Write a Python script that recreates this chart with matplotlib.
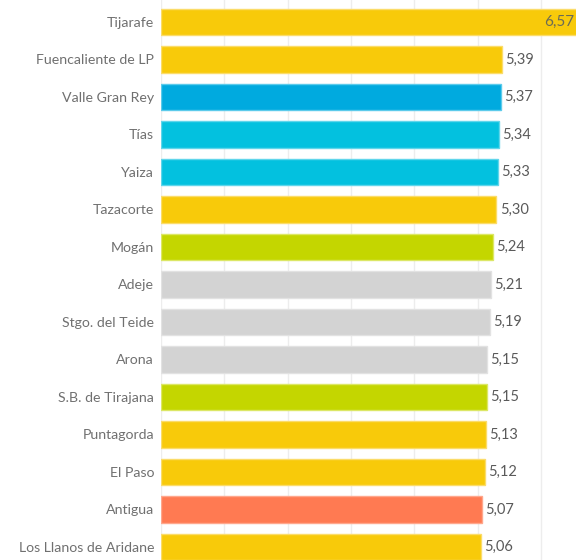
import matplotlib.pyplot as plt
import numpy as np

# Municipios y valores
names = ['Tijarafe', 'Fuencaliente de LP', 'Valle Gran Rey', 'Tías', 'Yaiza',
         'Tazacorte', 'Mogán', 'Adeje', 'Stgo. del Teide', 'Arona',
         'S.B. de Tirajana', 'Puntagorda', 'El Paso', 'Antigua',
         'Los Llanos de Aridane']
values = [6.57, 5.39, 5.37, 5.34, 5.33, 5.30, 5.24, 5.21, 5.19, 5.15,
          5.15, 5.13, 5.12, 5.07, 5.06]
groups = ['LP', 'LP', 'GO', 'LZ', 'LZ', 'LP', 'GC', 'TF', 'TF', 'TF',
          'GC', 'LP', 'LP', 'FV', 'LP']

group_colors = {'LP': '#F8CA0A', 'GO': '#00AADF', 'LZ': '#03C1DF',
                'GC': '#C4D600', 'TF': '#D3D3D3', 'FV': '#FF7A52'}
edge_colors = {'LP': '#FBDC6A', 'GO': '#5CCBEB', 'LZ': '#60D6EB',
               'GC': '#DCE766', 'TF': '#E2E2E2', 'FV': '#FFA78C'}

fig = plt.figure(figsize=(5.76, 5.6), dpi=100)
W, H = 576, 560
x0 = 161
px_per_unit = 63.3
ax = fig.add_axes([x0 / W, 0, (W - x0) / W, 1])

y = np.arange(len(names))
colors = [group_colors[g] for g in groups]
edges = [edge_colors[g] for g in groups]
ax.barh(y, values, height=0.7, color=colors, edgecolor=edges, linewidth=1, zorder=2)

xmax = (W - x0) / px_per_unit
ax.set_xlim(0, xmax)
ax.set_ylim((H - 22) / 37.5, -22 / 37.5)

ax.set_xticks(np.arange(0, 7))
ax.grid(axis='x', color='#EDEDED', linewidth=1, zorder=0)
ax.set_yticks(y)
ax.set_yticklabels(names, fontsize=10.2, color='#707070', family='Lato')
ax.tick_params(axis='y', length=0, pad=5)
ax.tick_params(axis='x', length=0, labelbottom=False)
for s in ax.spines.values():
    s.set_visible(False)

for yi, v in zip(y, values):
    label = f'{v:.2f}'.replace('.', ',')
    if v > xmax - 0.5:
        ax.text(xmax - 0.02, yi, label, va='center', ha='right', fontsize=11,
                color='#6B6B55', family='Lato', zorder=3)
    else:
        ax.text(v + 0.05, yi, label, va='center', ha='left', fontsize=10.5,
                color='#5A5A5A', family='Lato', zorder=3)

fig.savefig('out.png', dpi=100)
